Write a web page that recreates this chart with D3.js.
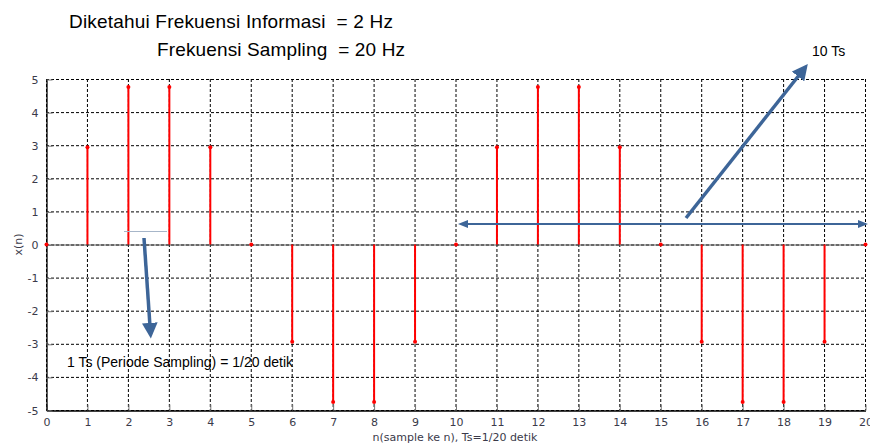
<!DOCTYPE html>
<html>
<head>
<meta charset="utf-8">
<script src="https://cdn.jsdelivr.net/npm/d3@7"></script>
<style>
  body { margin: 0; background: #fff; }
  svg { display: block; }
</style>
</head>
<body>
<svg id="chart" width="870" height="447"></svg>
<script>
// sample index n and value x(n)
let samples = d3.range(0, 21)
let values = [0, 2.94, 4.76, 4.76, 2.94, 0, -2.94, -4.76, -4.76, -2.94,
              0, 2.94, 4.76, 4.76, 2.94, 0, -2.94, -4.76, -4.76, -2.94, 0]
let yTicks = [-5, -4, -3, -2, -1, 0, 1, 2, 3, 4, 5]

let svg = d3.select('#chart')
let x = d3.scaleLinear().domain([0, 20]).range([46, 865])
let y = d3.scaleLinear().domain([-5, 5]).range([410, 79])

let data = samples.map((n, i) => ({n: n, v: values[i]}))

// dashed grid
let grid = svg.append('g')
  .attr('stroke', '#000')
  .attr('stroke-width', 1)
  .attr('stroke-dasharray', '3,2')
grid.selectAll('.vx')
  .data(samples)
  .join('line')
    .attr('x1', d => x(d) + 0.5).attr('x2', d => x(d) + 0.5)
    .attr('y1', y(5)).attr('y2', y(-5))
grid.selectAll('.hy')
  .data(yTicks)
  .join('line')
    .attr('x1', x(0)).attr('x2', x(20))
    .attr('y1', d => y(d) + 0.5).attr('y2', d => y(d) + 0.5)

// zero line
svg.append('line')
  .attr('x1', x(0)).attr('x2', x(20))
  .attr('y1', y(0) + 0.5).attr('y2', y(0) + 0.5)
  .attr('stroke', '#555').attr('stroke-width', 1.2)

// axes
let xAxis = g => g
  .attr('transform', `translate(0.5,${y(-5) + 0.5})`)
  .call(d3.axisBottom(x).tickValues(samples).tickFormat(d => String(d)).tickSizeInner(-6).tickSizeOuter(0).tickPadding(8))
let yAxis = g => g
  .attr('transform', `translate(${x(0) + 0.5},0.5)`)
  .call(d3.axisLeft(y).tickValues(yTicks).tickFormat(d => String(d)).tickSizeInner(-6).tickSizeOuter(0).tickPadding(8))

svg.append('g').call(xAxis)
svg.append('g').call(yAxis)
svg.selectAll('.domain').attr('stroke', '#000').attr('stroke-width', 1.3)
svg.selectAll('.tick line').attr('stroke', '#777')
svg.selectAll('.tick text')
  .attr('font-family', 'DejaVu Sans')
  .attr('font-size', 11)
  .attr('fill', '#3a3a4a')

// stems
svg.append('g')
  .selectAll('line')
  .data(data)
  .join('line')
    .attr('x1', d => x(d.n) + 0.5).attr('x2', d => x(d.n) + 0.5)
    .attr('y1', y(0)).attr('y2', d => y(d.v))
    .attr('stroke', '#ff0000')
    .attr('stroke-width', 2)
svg.append('g')
  .selectAll('circle')
  .data(data)
  .join('circle')
    .attr('cx', d => x(d.n) + 0.5)
    .attr('cy', d => y(d.v))
    .attr('r', 2)
    .attr('fill', '#ff0000')

// titles
svg.append('g')
  .attr('font-family', 'Liberation Sans, Arial, sans-serif')
  .attr('font-size', 19)
  .attr('fill', '#000')
  .call(g => g.append('text').attr('x', 69).attr('y', 28).attr('xml:space', 'preserve')
    .attr('textLength', 324).text('Diketahui Frekuensi Informasi  = 2 Hz'))
  .call(g => g.append('text').attr('x', 157).attr('y', 56).attr('xml:space', 'preserve')
    .attr('textLength', 248).text('Frekuensi Sampling  = 20 Hz'))

// axis labels
svg.append('text')
  .attr('x', 455).attr('y', 441)
  .attr('text-anchor', 'middle')
  .attr('font-family', 'DejaVu Sans')
  .attr('font-size', 11)
  .attr('fill', '#3a3a4a')
  .text('n(sample ke n), Ts=1/20 detik')
svg.append('text')
  .attr('transform', `translate(22,${y(0)}) rotate(-90)`)
  .attr('text-anchor', 'middle')
  .attr('font-family', 'DejaVu Sans')
  .attr('font-size', 11)
  .attr('fill', '#3a3a4a')
  .text('x(n)')

// annotations
let blue = '#3d6598'
let defs = svg.append('defs')
defs.append('marker')
  .attr('id', 'head').attr('viewBox', '0 0 10 10')
  .attr('refX', 2).attr('refY', 5)
  .attr('markerWidth', 4.5).attr('markerHeight', 4.5)
  .attr('orient', 'auto-start-reverse')
  .append('path').attr('d', 'M0,0 L10,5 L0,10 Z').attr('fill', blue)
defs.append('marker')
  .attr('id', 'small').attr('viewBox', '0 0 10 10')
  .attr('refX', 2).attr('refY', 5)
  .attr('markerWidth', 5).attr('markerHeight', 5)
  .attr('orient', 'auto-start-reverse')
  .append('path').attr('d', 'M0,1 L10,5 L0,9 Z').attr('fill', blue)

svg.append('line')
  .attr('x1', 466).attr('y1', 224).attr('x2', 860).attr('y2', 224)
  .attr('stroke', blue).attr('stroke-width', 2)
  .attr('marker-start', 'url(#small)').attr('marker-end', 'url(#small)')
svg.append('line')
  .attr('x1', 686).attr('y1', 218).attr('x2', 800).attr('y2', 74)
  .attr('stroke', blue).attr('stroke-width', 3.5)
  .attr('marker-end', 'url(#head)')
svg.append('line')
  .attr('x1', 124).attr('y1', 231.5).attr('x2', 167).attr('y2', 231.5)
  .attr('stroke', '#a7b6c9').attr('stroke-width', 1)
svg.append('line')
  .attr('x1', 144).attr('y1', 238).attr('x2', 150).attr('y2', 326)
  .attr('stroke', blue).attr('stroke-width', 3.5)
  .attr('marker-end', 'url(#head)')

svg.append('text')
  .attr('x', 812).attr('y', 56)
  .attr('font-family', 'Liberation Sans, Arial, sans-serif')
  .attr('font-size', 14)
  .text('10 Ts')
svg.append('text')
  .attr('x', 67).attr('y', 367)
  .attr('font-family', 'Liberation Sans, Arial, sans-serif')
  .attr('font-size', 14)
  .attr('textLength', 226)
  .text('1 Ts (Periode Sampling) = 1/20 detik')
</script>
</body>
</html>
